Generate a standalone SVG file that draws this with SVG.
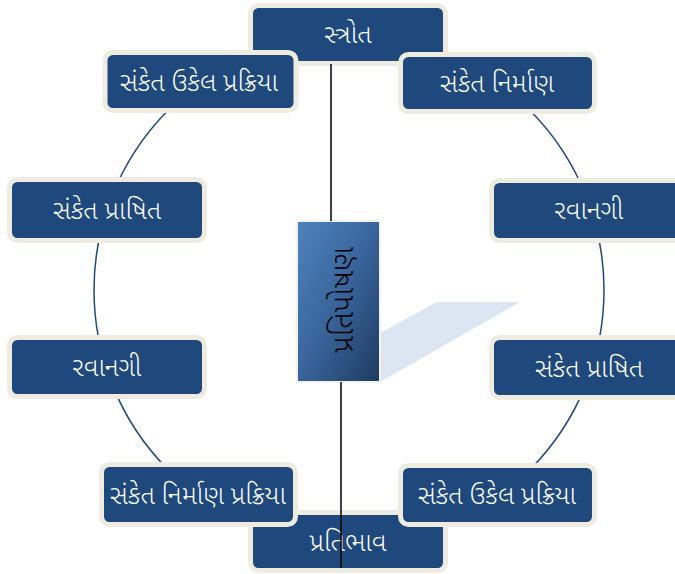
<svg xmlns="http://www.w3.org/2000/svg" width="675" height="574" viewBox="0 0 675 574">
<defs>
<linearGradient id="cg" x1="0" y1="0" x2="1" y2="1">
<stop offset="0" stop-color="#5083c0"/>
<stop offset="0.5" stop-color="#38649a"/>
<stop offset="1" stop-color="#1f3a60"/>
</linearGradient>
<style>
.n rect{fill:#1f497d;stroke:#eeece1;stroke-width:5}
.n text{fill:#ffffff;font-family:"Noto Sans Gujarati","Lohit Gujarati","Noto Sans",sans-serif;font-size:26px;font-weight:300;text-anchor:middle}
.ring{fill:none;stroke:#1f497d;stroke-width:1.5}
.ln{stroke:#000;stroke-width:1.5;fill:none}
</style>
</defs>
<rect width="675" height="574" fill="#ffffff"/>
<circle class="ring" cx="349" cy="290" r="255"/>
<g id="n-top" class="n"><rect x="250.5" y="5.5" width="195" height="58" rx="8"/><text x="348" y="43">સ્ત્રોત</text></g>
<g id="n-bottom" class="n"><rect x="250.5" y="512.5" width="195" height="58" rx="8"/><text x="348" y="551">પ્રતિભાવ</text></g>
<g id="n-ul" class="n"><rect x="105" y="52.5" width="191" height="58" rx="8"/><text x="199" y="91">સંકેત ઉકેલ પ્રક્રિયા</text></g>
<g id="n-ur" class="n"><rect x="400.5" y="54.5" width="194" height="57" rx="8"/><text x="497" y="92">સંકેત નિર્માણ</text></g>
<g id="n-l1" class="n"><rect x="9.5" y="179.5" width="195" height="61" rx="8"/><text x="107" y="219">સંકેત પ્રાષિત</text></g>
<g id="n-r1" class="n"><rect x="491.5" y="180.5" width="195" height="60" rx="8"/><text x="589" y="219">રવાનગી</text></g>
<g id="n-l2" class="n"><rect x="9.5" y="337.5" width="195" height="59" rx="8"/><text x="107" y="376">રવાનગી</text></g>
<g id="n-r2" class="n"><rect x="491.5" y="337.5" width="195" height="60" rx="8"/><text x="589" y="377">સંકેત પ્રાષિત</text></g>
<g id="n-ll" class="n"><rect x="101.5" y="464.5" width="194" height="60" rx="8"/><text x="198" y="504">સંકેત નિર્માણ પ્રક્રિયા</text></g>
<g id="n-lr" class="n"><rect x="400.5" y="465.5" width="194" height="59" rx="8"/><text x="497" y="504">સંકેત ઉકેલ પ્રક્રિયા</text></g>
<g id="n-center">
<polygon points="380,333 437,302 520,302 380,382" fill="#dce6f2"/>
<rect x="297" y="221" width="83" height="161" fill="url(#cg)" stroke="#f2f2f2" stroke-width="2"/>
<text transform="translate(353,300) rotate(-90)" x="0" y="0" text-anchor="middle" font-family="Noto Sans Gujarati,Lohit Gujarati,Noto Sans,sans-serif" font-size="30" font-weight="300" fill="#000">પ્રતિપોષણ</text>
</g>
<g id="connectors">
<line class="ln" x1="331" y1="64" x2="331" y2="221"/>
<line class="ln" x1="341" y1="382" x2="341" y2="568"/>
</g>
</svg>
